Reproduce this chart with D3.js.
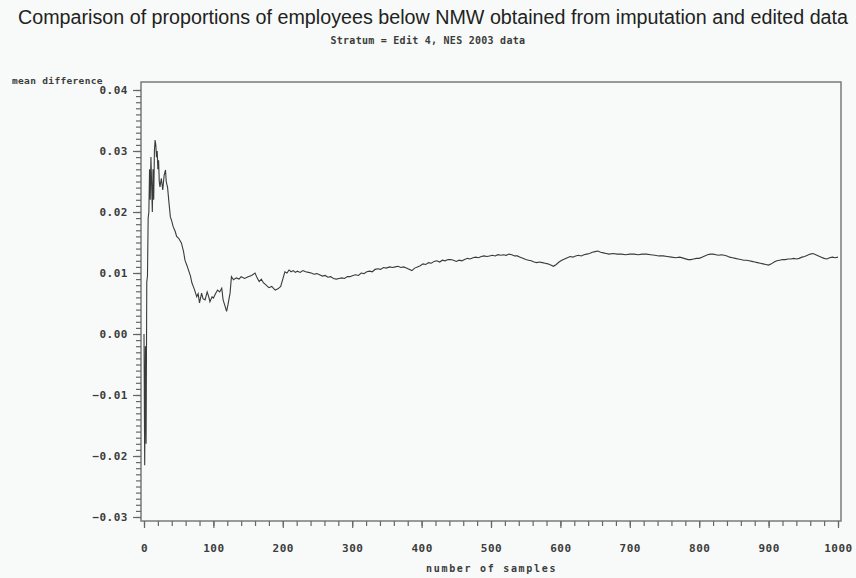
<!DOCTYPE html>
<html>
    <head>
        <meta charset="utf-8">
        <script src="https://cdn.jsdelivr.net/npm/d3@7"></script>
        <style>
            body { margin: 0; background: #f7faf8; }
            .tk { font-family: "DejaVu Sans Mono", monospace; font-weight: bold; font-size: 10px; fill: #3c3c3c; letter-spacing: 0.5px; }
        </style>
        <script>
            // running mean difference by number of samples
            const samples = [0, 1, 2, 3, 4, 5, 6, 7, 8, 9, 10, 11, 12, 13, 14, 15, 16, 17, 18, 19, 20, 21, 22, 23, 25, 27, 29, 31, 32, 34, 36, 38, 40, 42, 45, 47, 50, 54, 57, 59, 62, 64, 67, 69, 71, 73, 76, 78, 80, 83, 85, 88, 91, 93, 95, 98, 100, 103, 106, 109, 112, 114, 117, 119, 121, 124, 126, 129, 133, 137, 140, 145, 150, 155, 160, 163, 166, 169, 172, 176, 180, 184, 189, 193, 197,
                200, 203, 206, 209, 212, 215, 218, 221, 225, 229, 233, 237, 241, 245, 249, 253, 257, 261, 265, 269, 273, 277, 281, 285, 289, 293, 297,
                301, 305, 309, 313, 317, 321, 325, 329, 333, 337, 341, 345, 349, 354, 358, 362, 366, 370, 374, 378, 382, 386, 390, 394, 398,
                402, 406, 410, 414, 418, 422, 426, 430, 434, 438, 442, 446, 450, 454, 458, 462, 466, 470, 474, 478, 482, 486, 490, 494, 498,
                502, 506, 510, 514, 518, 522, 526, 530, 534, 538, 542, 546, 550, 554, 558, 562, 566, 570, 574, 578, 582, 586, 590, 594, 598,
                602, 606, 610, 614, 618, 622, 626, 630, 634, 638, 642, 646, 650, 654, 658, 662, 666, 670, 676, 682, 688, 694, 700,
                706, 712, 718, 724, 730, 736, 742, 748, 754, 760, 766, 772, 778, 784, 788, 792, 796, 800,
                804, 808, 812, 816, 820, 824, 828, 832, 836, 840, 844, 848, 852, 856, 860, 864, 868, 872, 876, 880, 884, 888, 892, 896, 900,
                904, 908, 912, 916, 920, 924, 928, 932, 936, 940, 944, 948, 952, 956, 960, 964, 968, 972, 976, 980, 984, 988, 992, 996, 1000];

            const meanDiff = [0.000, -0.0215, -0.002, -0.018, 0.0085, 0.0095, 0.019, 0.020, 0.027, 0.022, 0.029, 0.0245, 0.020, 0.027, 0.022, 0.030, 0.0318, 0.031, 0.029, 0.030, 0.027, 0.0285, 0.025, 0.0241, 0.0255, 0.0236, 0.026, 0.0269, 0.025, 0.024, 0.0215, 0.0192, 0.0185, 0.0176, 0.0168, 0.016, 0.0157, 0.0149, 0.0135, 0.0121, 0.0112, 0.0105, 0.0095, 0.0084, 0.0078, 0.0072, 0.0061, 0.0066, 0.0051, 0.0067, 0.0058, 0.0056, 0.0069, 0.0062, 0.0053, 0.0061, 0.0059, 0.0066, 0.0072, 0.0069, 0.0075, 0.0056, 0.0045, 0.0037, 0.0048, 0.0067, 0.0094, 0.0089, 0.0092, 0.0090, 0.0094, 0.0091, 0.0094, 0.0096, 0.0100, 0.0092, 0.0086, 0.0090, 0.0084, 0.0080, 0.0076, 0.0078, 0.0072, 0.0074, 0.0078,
                0.0090, 0.0102, 0.0100, 0.0105, 0.0102, 0.0104, 0.0101, 0.0103, 0.0101, 0.0104, 0.0102, 0.0101, 0.0100, 0.0098, 0.0099, 0.0097, 0.0095, 0.0096, 0.0093, 0.0094, 0.0091, 0.0090, 0.0091, 0.0092, 0.0091, 0.0094, 0.0094,
                0.0096, 0.0097, 0.0096, 0.0100, 0.0099, 0.0102, 0.0103, 0.0102, 0.0106, 0.0107, 0.0106, 0.0109, 0.0108, 0.0110, 0.0109, 0.0110, 0.0111, 0.0109, 0.0110, 0.0108, 0.0106, 0.0104, 0.0108, 0.0110, 0.0112,
                0.0115, 0.0114, 0.0117, 0.0116, 0.0119, 0.0120, 0.0118, 0.0121, 0.0120, 0.0122, 0.0122, 0.0121, 0.0119, 0.0121, 0.0120, 0.0122, 0.0124, 0.0123, 0.0125, 0.0126, 0.0125, 0.0127, 0.0128, 0.0127, 0.0128,
                0.0129, 0.0128, 0.0130, 0.0129, 0.0130, 0.0129, 0.0131, 0.0130, 0.0128, 0.0128, 0.0126, 0.0124, 0.0122, 0.0121, 0.0120, 0.0118, 0.0117, 0.0118, 0.0117, 0.0116, 0.0115, 0.0113, 0.0111, 0.0114, 0.0118,
                0.0121, 0.0123, 0.0125, 0.0127, 0.0126, 0.0128, 0.0129, 0.0128, 0.0130, 0.0131, 0.0132, 0.0134, 0.0135, 0.0136, 0.0134, 0.0133, 0.0132, 0.0131, 0.0132, 0.0131, 0.0131, 0.0130, 0.0131,
                0.0131, 0.0130, 0.0131, 0.0131, 0.0130, 0.0129, 0.0128, 0.0128, 0.0127, 0.0126, 0.0125, 0.0126, 0.0124, 0.0122, 0.0122, 0.0123, 0.0124, 0.0124,
                0.0126, 0.0128, 0.0130, 0.0131, 0.0131, 0.0130, 0.0129, 0.0130, 0.0129, 0.0128, 0.0126, 0.0125, 0.0124, 0.0123, 0.0122, 0.0121, 0.0121, 0.0120, 0.0119, 0.0118, 0.0117, 0.0116, 0.0115, 0.0114, 0.0113,
                0.0115, 0.0118, 0.0120, 0.0121, 0.0122, 0.0122, 0.0123, 0.0123, 0.0124, 0.0123, 0.0124, 0.0126, 0.0127, 0.0129, 0.0131, 0.0132, 0.0130, 0.0128, 0.0126, 0.0124, 0.0123, 0.0125, 0.0126, 0.0125, 0.0126];

            const xTicks = [0, 100, 200, 300, 400, 500, 600, 700, 800, 900, 1000];
            const yTicks = [-0.03, -0.02, -0.01, 0.00, 0.01, 0.02, 0.03, 0.04];

            const titleText = "Comparison of proportions of employees below NMW obtained from imputation and edited data";
            const subTitle = "Stratum = Edit 4, NES 2003 data";

            function makeSVG() {

                var svg = d3.select("#fig");

                const frame = { left: 141, top: 82, right: 841, bottom: 521 };

                // scales - ticks sit a little inside the frame
                const xSc = d3.scaleLinear()
                              .domain([0, 1000])
                              .range([144, 838]);

                const ySc = d3.scaleLinear()
                              .domain([-0.03, 0.04])
                              .range([517, 90]);

                // titles
                svg.append("text")
                   .attr("x", 433).attr("y", 24)
                   .attr("text-anchor", "middle")
                   .attr("textLength", 830)
                   .attr("lengthAdjust", "spacingAndGlyphs")
                   .style("font-family", "'Liberation Sans', Arial, sans-serif")
                   .style("font-size", "19.5px")
                   .style("fill", "#222")
                   .text(titleText);

                svg.append("text")
                   .attr("class", "tk")
                   .attr("x", 428).attr("y", 44)
                   .attr("text-anchor", "middle")
                   .attr("textLength", 195)
                   .attr("lengthAdjust", "spacing")
                   .style("font-size", "10px")
                   .text(subTitle);

                // frame
                svg.append("rect")
                   .attr("x", frame.left).attr("y", frame.top)
                   .attr("width", frame.right - frame.left)
                   .attr("height", frame.bottom - frame.top)
                   .attr("fill", "none")
                   .attr("stroke", "#7a7a7a")
                   .attr("stroke-width", 1.5);

                // Y axis, minor then major
                var ygMin = svg.append("g").attr("transform", `translate(${frame.left},0)`);
                ygMin.call(d3.axisLeft(ySc).tickValues(d3.range(-30, 41).map(d => d / 1000)).tickSize(5).tickFormat(""));

                var yg = svg.append("g").attr("transform", `translate(${frame.left},0)`);
                yg.call(d3.axisLeft(ySc).tickValues(yTicks).tickSize(8).tickPadding(5).tickFormat(d3.format(".2f")));

                // X axis, minor then major
                var xgMin = svg.append("g").attr("transform", `translate(0,${frame.bottom})`);
                xgMin.call(d3.axisBottom(xSc).tickValues(d3.range(0, 1001, 20)).tickSize(5).tickFormat(""));

                var xg = svg.append("g").attr("transform", `translate(0,${frame.bottom})`);
                xg.call(d3.axisBottom(xSc).tickValues(xTicks).tickSize(7).tickPadding(16).tickFormat(d3.format("d")));

                svg.selectAll(".domain").remove();
                svg.selectAll(".tick line").attr("stroke", "#666").attr("stroke-width", 1.2);
                svg.selectAll(".tick text").attr("class", "tk").style("font-size", "11px");

                // axis labels
                svg.append("text")
                   .attr("class", "tk")
                   .attr("x", 12).attr("y", 84)
                   .attr("textLength", 91)
                   .attr("lengthAdjust", "spacing")
                   .style("font-size", "9.5px")
                   .text("mean difference");

                svg.append("text")
                   .attr("class", "tk")
                   .attr("x", 491).attr("y", 572)
                   .attr("text-anchor", "middle")
                   .attr("textLength", 130)
                   .attr("lengthAdjust", "spacing")
                   .style("font-size", "10px")
                   .text("number of samples");

                // Draw line
                var ds = samples.map((n, i) => [xSc(n), ySc(meanDiff[i])]);

                var lnMkr = d3.line();

                svg.append("path")
                   .attr("d", lnMkr(ds))
                   .attr("fill", "none")
                   .attr("stroke", "#3a3a3a")
                   .attr("stroke-width", 1.1);
            }
        </script>
    </head>
    <body onload="makeSVG()">

        <svg id="fig" width="856" height="578" style="background: #f7faf8" />

    </body>
</html>
